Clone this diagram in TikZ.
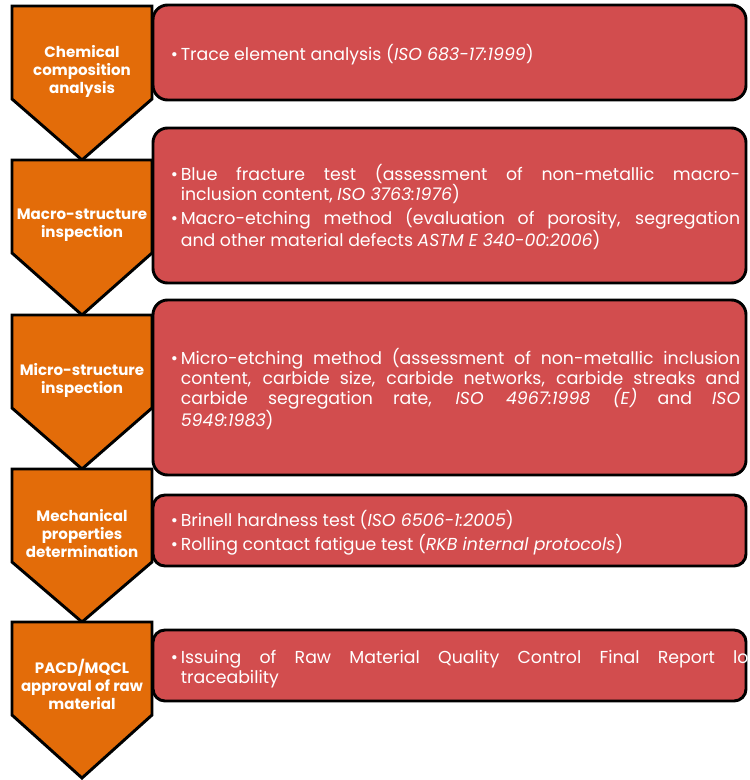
\documentclass[tikz,border=0pt]{standalone}
\usepackage{fontspec}
\setmainfont{Poppins}
\usetikzlibrary{positioning}

\definecolor{stepOrange}{RGB}{227,108,9}
\definecolor{boxRed}{RGB}{210,77,78}

% one bullet point, hanging indent
\newcommand{\bitem}[1]{\par\emergencystretch=2em\noindent\hangindent=7.5pt\hangafter=1\makebox[7.5pt][l]{\textbullet}#1\par}

\tikzset{
  chevron/.style={draw=black, line width=2.2pt, fill=stepOrange, line join=miter},
  steplabel/.style={text=white, font=\bfseries\fontsize{11.3}{13.5}\selectfont, align=center, inner sep=0pt},
  detailbox/.style={draw=black, line width=2.2pt, fill=boxRed, rounded corners=11pt,
    minimum width=444.75pt, inner sep=0pt},
  detailtext/.style={text=white, font=\fontsize{13}{15}\selectfont, text width=427pt,
    align=justify, inner sep=0pt},
}

\begin{document}
\begin{tikzpicture}[x=0.75pt, y=-0.75pt]
  \useasboundingbox (0,0) rectangle (749,780);
  \clip (0,0) rectangle (749,780);

  % steps on the left
  \foreach \top/\tip in {6/160, 160/315, 315/469, 469/622, 622/778}
    \draw[chevron] (12,\top) -- (152,\top) -- (152,\top+93) -- (82,\tip) -- (12,\top+93) -- cycle;

  \node[steplabel] (chem)  at (82,71)  {Chemical\\composition\\analysis};
  \node[steplabel] (macro) at (82,225) {Macro-structure\\inspection};
  \node[steplabel] (micro) at (82,380) {Micro-structure\\inspection};
  \node[steplabel] (mech)  at (82,534) {Mechanical\\properties\\determination};
  \node[steplabel] (pacd)  at (82,684) {PACD/MQCL\\approval of raw\\material};

  % detail boxes
  \node[detailbox, minimum height=71.25pt]  (box1) at (449.5,52.5)  {};
  \node[detailbox, minimum height=116.25pt] (box2) at (449.5,205.5) {};
  \node[detailbox, minimum height=131.25pt] (box3) at (449.5,387.5) {};
  \node[detailbox, minimum height=53.25pt, rounded corners=9pt] (box4) at (449.5,530.5) {};
  \node[detailbox, minimum height=53.25pt, rounded corners=9pt] (box5) at (449.5,665.5) {};

  \node[detailtext, right=14.25pt of box1.west] (txt1) {%
    \bitem{Trace element analysis (\textit{ISO 683-17:1999})}};
  \node[detailtext, right=14.25pt of box2.west] (txt2) {%
    \bitem{Blue fracture test (assessment of non-metallic macro-\linebreak inclusion content, \textit{ISO 3763:1976})}\vspace{3pt}
    \bitem{Macro-etching method (evaluation of porosity, segregation\linebreak and other material defects \textit{ASTM E 340-00:2006})}};
  \node[detailtext, right=14.25pt of box3.west] (txt3) {%
    \bitem{Micro-etching method (assessment of non-metallic inclusion\linebreak content, carbide size, carbide networks, carbide streaks and\linebreak carbide segregation rate, \textit{ISO 4967:1998 (E)} and \textit{ISO\linebreak 5949:1983})}};
  \node[detailtext, right=14.25pt of box4.west] (txt4) {%
    \bitem{Brinell hardness test (\textit{ISO 6506-1:2005})}\vspace{3pt}
    \bitem{Rolling contact fatigue test (\textit{RKB internal protocols})}};
  \node[detailtext, text width=438pt, right=14.25pt of box5.west] (txt5) {%
    \bitem{Issuing of Raw Material Quality Control Final Report lot\linebreak traceability}};
\end{tikzpicture}
\end{document}
